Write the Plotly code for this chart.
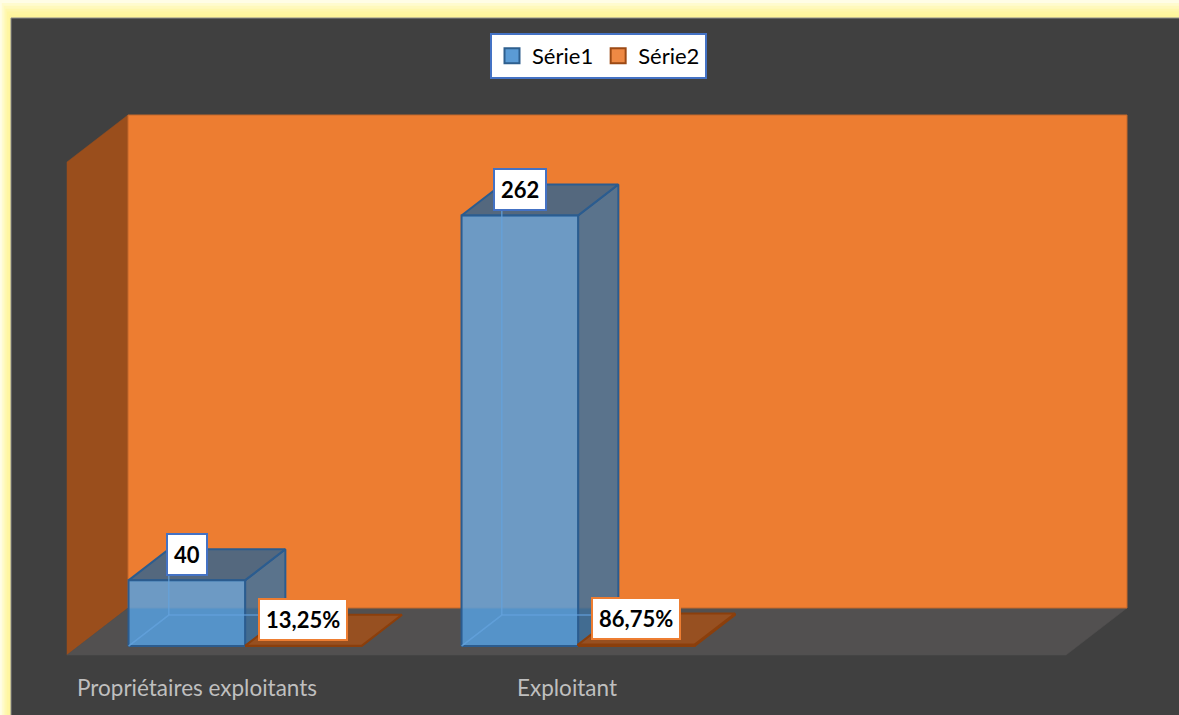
import plotly.graph_objects as go

# ---- data ----
categories = ["Propriétaires exploitants", "Exploitant", ""]
serie1 = [40, 262, None]
serie2 = [0.1325, 0.8675, None]
series_names = ["Série1", "Série2"]
y_max = 300

# ---- page / 3D box geometry (pixels) ----
W, H = 1179, 715
FLOOR_LEFT_PX = 67          # front-left corner of the floor
CAT_PX = 333                # width of one category on the front edge
FLOOR_FRONT_PY = 655        # front edge of the floor
PX_PER_UNIT = 493 / y_max   # vertical scale
DEPTH_DX_PX, DEPTH_DY_PX = 61, 47

DX = DEPTH_DX_PX / CAT_PX          # depth offset in category units
DY = DEPTH_DY_PX / PX_PER_UNIT     # depth offset in value units
D_FRONT, D_BACK = 0.19, 0.85       # bar row position inside the box depth
BAR_W = 0.35

x_range = [-0.5 - FLOOR_LEFT_PX / CAT_PX, -0.5 + (W - FLOOR_LEFT_PX) / CAT_PX]
y_range = [-(H - FLOOR_FRONT_PY) / PX_PER_UNIT, FLOOR_FRONT_PY / PX_PER_UNIT]

n_cat = len(categories)

BG = "#404040"
FONT = "Lato"

def P(x, y, d):
    return x + d * DX, y + d * DY

def poly(points, fill, line_color, line_width=1.0):
    xs = [p[0] for p in points] + [points[0][0]]
    ys = [p[1] for p in points] + [points[0][1]]
    return go.Scatter(x=xs, y=ys, mode="lines", fill="toself", fillcolor=fill,
                      line=dict(color=line_color, width=line_width),
                      hoverinfo="skip", showlegend=False)

fig = go.Figure()

# ---- walls and floor ----
x_left, x_right = -0.5, n_cat - 0.5
fig.add_trace(poly([P(x_left, 0, 0), P(x_left, 0, 1), P(x_left, y_max, 1), P(x_left, y_max, 0)],
                   "#9A4E1C", "#9A4E1C", 0.5))
fig.add_trace(poly([P(x_left, 0, 0), P(x_right, 0, 0), P(x_right, 0, 1), P(x_left, 0, 1)],
                   "#525050", "#525050", 0.5))
fig.add_trace(poly([P(x_left, 0, 1), P(x_right, 0, 1), P(x_right, y_max, 1), P(x_left, y_max, 1)],
                   "#ED7D31", "#C4682A", 1))

# ---- bar styling per series ----
styles = [
    dict(front="rgba(86,159,222,0.85)", top="rgba(56,100,140,0.85)", side="rgba(64,113,156,0.85)",
         edge="#2B5C8F", hidden="rgba(100,163,222,0.75)", label_border="#4472C4"),
    dict(front="rgba(200,100,35,0.85)", top="rgba(163,80,25,0.85)", side="rgba(150,72,22,0.85)",
         edge="#8B3F0C", hidden="rgba(200,110,50,0.6)", label_border="#ED7D31"),
]

def fmt(s, v):
    if s == 0:
        return f"{v:g}"
    return f"{v * 100:.2f}%".replace(".", ",")

annotations = []
for i in range(n_cat):
    for s, values in enumerate([serie1, serie2]):
        v = values[i]
        if v is None:
            continue
        st = styles[s]
        xl = i - BAR_W + s * BAR_W
        xr = xl + BAR_W
        side = [P(xr, 0, D_FRONT), P(xr, 0, D_BACK), P(xr, v, D_BACK), P(xr, v, D_FRONT)]
        top = [P(xl, v, D_FRONT), P(xr, v, D_FRONT), P(xr, v, D_BACK), P(xl, v, D_BACK)]
        front = [P(xl, 0, D_FRONT), P(xr, 0, D_FRONT), P(xr, v, D_FRONT), P(xl, v, D_FRONT)]
        fig.add_trace(poly(side, st["side"], st["edge"], 2))
        fig.add_trace(poly(top, st["top"], st["edge"], 2))
        fig.add_trace(poly(front, st["front"], st["edge"], 2))
        if s == 0:
            # back edges seen through the translucent box
            hx = [P(xl, 0, D_FRONT)[0], P(xl, 0, D_BACK)[0], P(xr, 0, D_BACK)[0], None,
                  P(xl, 0, D_BACK)[0], P(xl, v, D_BACK)[0]]
            hy = [P(xl, 0, D_FRONT)[1], P(xl, 0, D_BACK)[1], P(xr, 0, D_BACK)[1], None,
                  P(xl, 0, D_BACK)[1], P(xl, v, D_BACK)[1]]
            fig.add_trace(go.Scatter(x=hx, y=hy, mode="lines",
                                     line=dict(color=st["hidden"], width=1.5),
                                     hoverinfo="skip", showlegend=False))
        # value label above the bar
        lx, ly = P((xl + xr) / 2, v, D_FRONT)
        annotations.append(dict(
            x=lx, y=ly, xref="x", yref="y", text=f"<b>{fmt(s, v)}</b>",
            showarrow=False, yshift=26, yanchor="middle", xanchor="center",
            bgcolor="white", bordercolor=st["label_border"], borderwidth=2, borderpad=6,
            font=dict(family=FONT, size=22, color="black"),
        ))

# ---- category labels under the floor ----
LABEL_XSHIFT = [-37, 0, 0]
for i, name in enumerate(categories):
    if not name:
        continue
    annotations.append(dict(
        x=i, y=0, xref="x", yref="y", text=name, showarrow=False,
        yshift=-32, xshift=LABEL_XSHIFT[i], yanchor="middle", xanchor="center",
        font=dict(family=FONT, size=22.5, color="#BFBFBF"),
    ))

# ---- legend entries ----
legend_marks = [("#5B9BD5", "#2E5F8E"), ("#EE8944", "#9C4A14")]
for name, (fc, lc) in zip(series_names, legend_marks):
    fig.add_trace(go.Scatter(x=[None], y=[None], mode="markers", name=name,
                             marker=dict(symbol="square", size=15, color=fc,
                                         line=dict(color=lc, width=2))))

# ---- frame: soft yellow glow and dark chart area ----
def px_rect(x0, y0, x1, y1, **kw):
    return dict(type="rect", xref="paper", yref="paper",
                x0=x0 / W, x1=x1 / W, y0=1 - y1 / H, y1=1 - y0 / H, layer="below", **kw)

glow = ["#FFFDE6", "#FFFBCF", "#FFF9BC", "#FFF7AC", "#FFF6A2", "#FFF59C"]
shapes = []
for k, c in enumerate(glow):
    shapes.append(px_rect(k * 1.8, k * 2.9, W + 20, H + 20, fillcolor=c, line=dict(width=0)))
shapes.append(px_rect(11, 18, W + 20, H + 20, fillcolor=BG, line=dict(color="#8C8C8C", width=1)))

fig.update_layout(
    width=W, height=H,
    margin=dict(l=0, r=0, t=0, b=0),
    paper_bgcolor="#FFFEF2", plot_bgcolor="#FFFEF2",
    xaxis=dict(range=x_range, visible=False, fixedrange=True),
    yaxis=dict(range=y_range, visible=False, fixedrange=True),
    shapes=shapes,
    annotations=annotations,
    showlegend=True,
    legend=dict(orientation="h", x=598.5 / W, xanchor="center", y=1 - 33 / H, yanchor="top",
                bgcolor="white", bordercolor="#4472C4", borderwidth=2,
                font=dict(family=FONT, size=22, color="black"),
                itemclick=False, itemdoubleclick=False),
    hovermode=False,
)

fig.write_html("out.html")
